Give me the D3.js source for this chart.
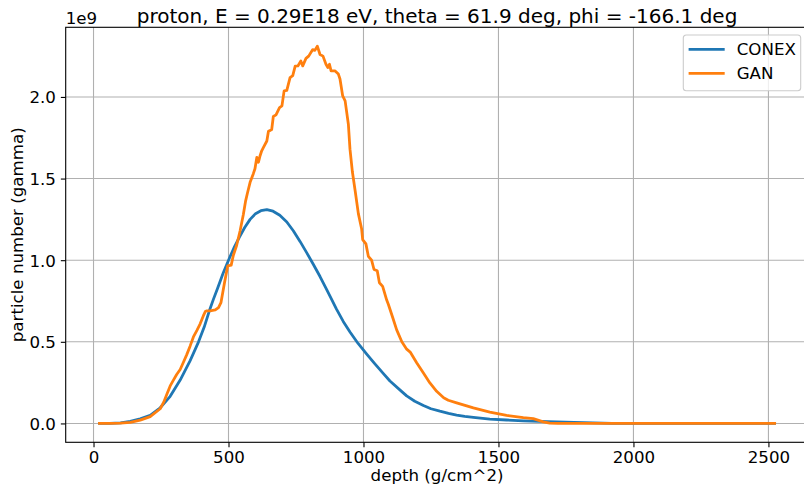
<!DOCTYPE html>
<html>
<head>
<meta charset="utf-8">
<script src="https://cdn.jsdelivr.net/npm/d3@7"></script>
<style>
	body { margin: 0; background: #fff; }
	svg { display: block; font-family: "DejaVu Sans", sans-serif; }
</style>
</head>
<body>
<div id="chart"></div>
<script>
// depth in g/cm^2, particle numbers in units of 1e9
let depthConex = [22, 60, 100, 136, 173, 210, 247, 284, 321, 358, 389, 410, 429, 444, 460, 480,
	500, 520, 540, 560, 580, 600, 620, 642, 665, 690, 716, 740, 765, 790, 814, 839, 860, 882,
	900, 925, 950, 980, 1012, 1040, 1073, 1098, 1142, 1160, 1190, 1222, 1250, 1283, 1315, 1345,
	1375, 1407, 1468, 1530, 1592, 1650, 1715, 1780, 1850, 1920, 2000, 2200, 2400, 2523];
let conex = [0, 0.001, 0.004, 0.013, 0.028, 0.05, 0.096, 0.166, 0.266, 0.385, 0.5, 0.59, 0.69,
	0.76, 0.83, 0.92, 1.0, 1.075, 1.14, 1.2, 1.25, 1.285, 1.303, 1.31, 1.3, 1.275, 1.234, 1.18,
	1.115, 1.045, 0.975, 0.9, 0.832, 0.76, 0.7, 0.625, 0.56, 0.49, 0.425, 0.37, 0.307, 0.26,
	0.195, 0.169, 0.136, 0.11, 0.09, 0.075, 0.062, 0.051, 0.043, 0.037, 0.027, 0.021, 0.016,
	0.012, 0.009, 0.006, 0.003, 0.001, 0, 0, 0, 0];

let depthGan = [22, 60, 100, 136, 173, 210, 247, 260, 272, 284, 296, 308, 321, 333, 345, 358,
	370, 383, 395, 407, 414, 420, 432, 451, 463, 472, 485, 497, 510, 518, 530, 543, 555, 563,
	570, 580, 592, 598, 605, 611, 617, 623, 629, 642, 648, 654, 660, 666, 676, 689, 698, 706,
	716, 728, 738, 747, 757, 768, 775, 787, 797, 812, 820, 829, 839, 850, 861, 868, 874, 880,
	894, 907, 913, 923, 932, 944, 950, 959, 969, 981, 993, 997, 1009, 1018, 1030, 1039, 1051,
	1059, 1071, 1086, 1092, 1110, 1123, 1142, 1160, 1173, 1197, 1222, 1246, 1271, 1297, 1314,
	1345, 1407, 1468, 1530, 1592, 1629, 1666, 1690, 1720, 1900, 2200, 2523];
let gan = [0, 0, 0.002, 0.006, 0.02, 0.042, 0.09, 0.13, 0.18, 0.23, 0.265, 0.3, 0.33, 0.375,
	0.42, 0.475, 0.53, 0.57, 0.61, 0.66, 0.685, 0.69, 0.69, 0.695, 0.71, 0.74, 0.86, 0.965, 0.97,
	1.03, 1.09, 1.18, 1.28, 1.36, 1.41, 1.477, 1.53, 1.56, 1.63, 1.6, 1.64, 1.67, 1.69, 1.73,
	1.79, 1.795, 1.8, 1.88, 1.89, 1.935, 1.945, 2.037, 2.04, 2.118, 2.13, 2.189, 2.19, 2.22,
	2.19, 2.236, 2.25, 2.29, 2.285, 2.311, 2.26, 2.25, 2.2, 2.18, 2.2, 2.16, 2.16, 2.14, 2.11,
	2.006, 1.976, 1.833, 1.68, 1.54, 1.427, 1.285, 1.193, 1.126, 1.1, 1.024, 1.0, 0.943, 0.935,
	0.862, 0.84, 0.756, 0.73, 0.64, 0.573, 0.5, 0.455, 0.437, 0.372, 0.309, 0.248, 0.197, 0.157,
	0.142, 0.126, 0.095, 0.069, 0.049, 0.035, 0.029, 0.01, 0.002, 0, 0, 0, 0];

let xTicks = [0, 500, 1000, 1500, 2000, 2500];
let yTicks = [0, 0.5, 1.0, 1.5, 2.0];
let seriesNames = ["CONEX", "GAN"];
let colors = ["#1f77b4", "#ff7f0e"];
let titleText = "proton, E = 0.29E18 eV, theta = 61.9 deg, phi = -166.1 deg";

let width = 804;
let height = 488;
let box = { left: 65.7, top: 27.3, right: 808.4, bottom: 442.3 };
let fs = 16.67;

// matplotlib-like 5% margins around the data
let pad = (ext) => {
	let m = (ext[1] - ext[0]) * 0.05;
	return [ext[0] - m, ext[1] + m];
};

let xScale = d3
	.scaleLinear()
	.domain(pad(d3.extent(depthConex.concat(depthGan))))
	.range([box.left, box.right]);
let yScale = d3
	.scaleLinear()
	.domain(pad(d3.extent(conex.concat(gan))))
	.range([box.bottom, box.top]);

let svg = d3
	.select("#chart")
	.append("svg")
	.attr("width", width)
	.attr("height", height)
	.style("overflow", "hidden");

// grid
svg
	.append("g")
	.selectAll("line")
	.data(xTicks)
	.join("line")
	.attr("x1", (d) => xScale(d))
	.attr("x2", (d) => xScale(d))
	.attr("y1", box.top)
	.attr("y2", box.bottom)
	.attr("stroke", "#b0b0b0")
	.attr("stroke-width", 1.1);
svg
	.append("g")
	.selectAll("line")
	.data(yTicks)
	.join("line")
	.attr("x1", box.left)
	.attr("x2", box.right)
	.attr("y1", (d) => yScale(d))
	.attr("y2", (d) => yScale(d))
	.attr("stroke", "#b0b0b0")
	.attr("stroke-width", 1.1);

let xAxis = d3
	.axisBottom(xScale)
	.tickValues(xTicks)
	.tickFormat(d3.format("d"))
	.tickSizeInner(4.86)
	.tickSizeOuter(0)
	.tickPadding(4.86);
let yAxis = d3
	.axisLeft(yScale)
	.tickValues(yTicks)
	.tickFormat(d3.format(".1f"))
	.tickSizeInner(4.86)
	.tickSizeOuter(0)
	.tickPadding(4.86);

svg
	.append("g")
	.attr("transform", `translate(0,${box.bottom})`)
	.call(xAxis)
	.call((g) => g.select(".domain").remove())
	.call((g) => g.selectAll("line").attr("stroke", "#000").attr("stroke-width", 1.1))
	.call((g) =>
		g
			.selectAll("text")
			.attr("fill", "#000")
			.attr("font-size", fs)
			.attr("font-family", "DejaVu Sans")
			.attr("dy", "0.64em")
	);
svg
	.append("g")
	.attr("transform", `translate(${box.left},0)`)
	.call(yAxis)
	.call((g) => g.select(".domain").remove())
	.call((g) => g.selectAll("line").attr("stroke", "#000").attr("stroke-width", 1.1))
	.call((g) =>
		g
			.selectAll("text")
			.attr("fill", "#000")
			.attr("font-size", fs)
			.attr("font-family", "DejaVu Sans")
			.attr("dy", "0.36em")
	);

// curves
let line = d3
	.line()
	.x((d) => xScale(d[0]))
	.y((d) => yScale(d[1]));
let series = [d3.zip(depthConex, conex), d3.zip(depthGan, gan)];
svg
	.append("g")
	.selectAll("path")
	.data(series)
	.join("path")
	.attr("d", line)
	.attr("fill", "none")
	.attr("stroke", (d, i) => colors[i])
	.attr("stroke-width", 2.78)
	.attr("stroke-linejoin", "round")
	.attr("stroke-linecap", "square");

// frame
svg
	.append("rect")
	.attr("x", box.left)
	.attr("y", box.top)
	.attr("width", box.right - box.left)
	.attr("height", box.bottom - box.top)
	.attr("fill", "none")
	.attr("stroke", "#000")
	.attr("stroke-width", 1.1);

// texts
svg
	.append("text")
	.attr("x", (box.left + box.right) / 2)
	.attr("y", 23)
	.attr("text-anchor", "middle")
	.attr("font-size", 20)
	.text(titleText);
svg
	.append("text")
	.attr("x", box.left)
	.attr("y", 24)
	.attr("font-size", fs)
	.text("1e9");
svg
	.append("text")
	.attr("x", (box.left + box.right) / 2)
	.attr("y", 481)
	.attr("text-anchor", "middle")
	.attr("font-size", fs)
	.text("depth (g/cm^2)");
svg
	.append("text")
	.attr("transform", `translate(23,${(box.top + box.bottom) / 2}) rotate(-90)`)
	.attr("text-anchor", "middle")
	.attr("font-size", fs)
	.text("particle number (gamma)");

// legend
let legend = svg.append("g").attr("transform", "translate(683.3,35)");
legend
	.append("rect")
	.attr("width", 117.4)
	.attr("height", 55.7)
	.attr("rx", 3)
	.attr("fill", "#fff")
	.attr("fill-opacity", 0.8)
	.attr("stroke", "#cccccc")
	.attr("stroke-width", 1.1);
let item = legend
	.selectAll(".item")
	.data(seriesNames)
	.join("g")
	.attr("class", "item")
	.attr("transform", (d, i) => `translate(0,${14.3 + i * 24})`);
item
	.append("line")
	.attr("x1", 6.7)
	.attr("x2", 40)
	.attr("stroke", (d, i) => colors[i])
	.attr("stroke-width", 2.78)
	.attr("stroke-linecap", "square");
item
	.append("text")
	.attr("x", 53.4)
	.attr("y", 5.8)
	.attr("font-size", fs)
	.text((d) => d);
</script>
</body>
</html>
